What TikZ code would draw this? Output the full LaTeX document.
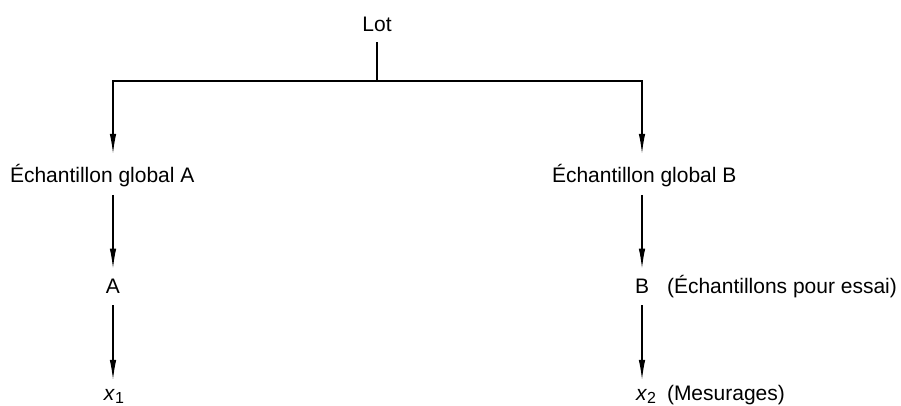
\documentclass[tikz,border=0pt]{standalone}
\usepackage{fontspec}
\setmainfont{Liberation Sans}
\usetikzlibrary{arrows.meta,calc}
\begin{document}
\begin{tikzpicture}[x=1pt,y=-1pt,
  lbl/.style={inner sep=0pt,outer sep=0pt,font=\fontsize{21}{25}\selectfont},
  conn/.style={line width=1.2pt},
  arr/.style={conn,-{Latex[length=20pt,width=6.5pt]}}]
\useasboundingbox (0,0) rectangle (901,405);
% nodes
\node[lbl,anchor=base] (lot) at (377,31) {Lot};
\node[lbl,anchor=base west] (gA) at (10,182) {Échantillon global A};
\node[lbl,anchor=base west] (gB) at (552,182) {Échantillon global B};
\node[lbl,anchor=base] (A) at (113,293) {A};
\node[lbl,anchor=base] (B) at (642,293) {B};
\node[lbl,anchor=base west] (Bl) at (667,293) {(Échantillons pour essai)};
\node[lbl,anchor=base] (x1) at (114,400) {\textit{x}\raisebox{-3pt}{\fontsize{16}{18}\selectfont 1}};
\node[lbl,anchor=base] (x2) at (646,400) {\textit{x}\raisebox{-3pt}{\fontsize{16}{18}\selectfont 2}};
\node[lbl,anchor=base west] (Ml) at (667,400) {(Mesurages)};
% junctions
\coordinate (j) at (377,81);
\coordinate (jl) at (113,81);
\coordinate (jr) at (642,81);
% connectors
\draw[conn,shorten <=11pt] (lot.south) -- (j);
\draw[conn,line cap=rect] (jl) -- (jr);
\draw[arr,shorten >=10pt] (jl) -- (jl |- gA.north);
\draw[arr,shorten >=10pt] (jr) -- (jr |- gB.north);
\draw[arr,shorten <=8.5pt,shorten >=10pt] (A |- gA.south) -- (A.north);
\draw[arr,shorten <=8.5pt,shorten >=10pt] (B |- gB.south) -- (B.north);
\draw[arr,shorten <=12pt,shorten >=9pt] (A.south) -- (A |- x1.north);
\draw[arr,shorten <=12pt,shorten >=9pt] (B.south) -- (B |- x2.north);
\end{tikzpicture}
\end{document}
